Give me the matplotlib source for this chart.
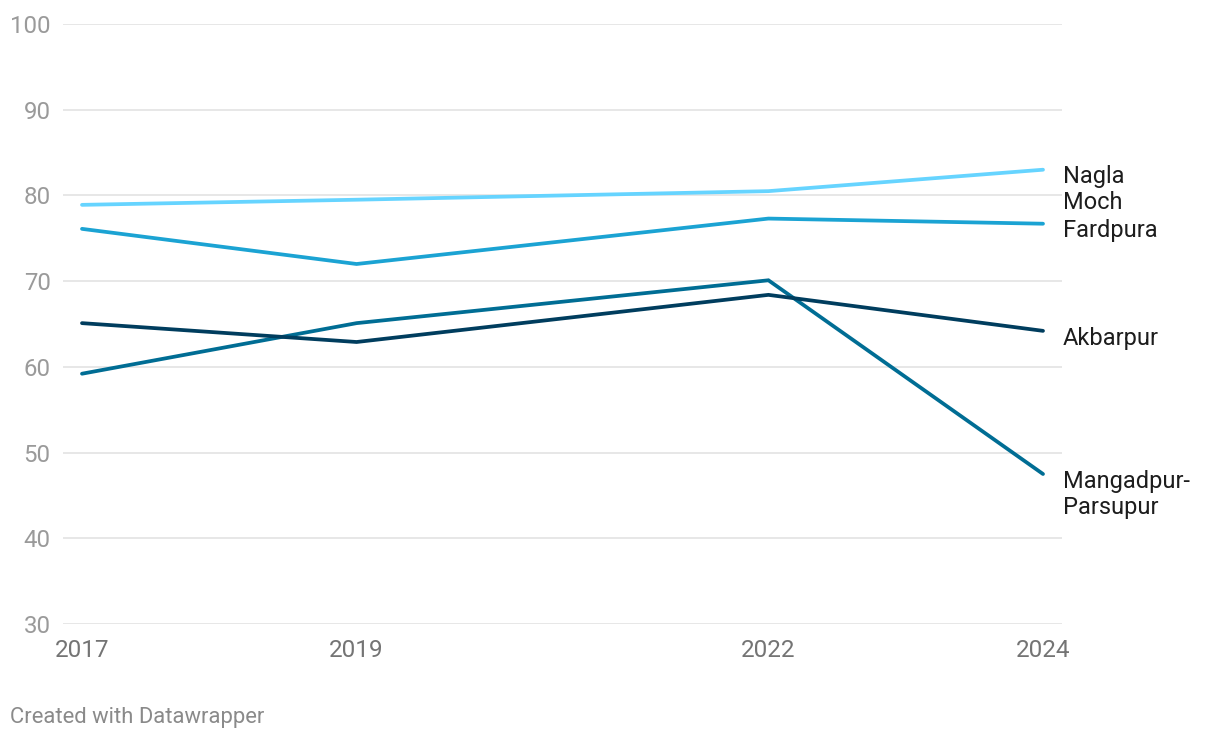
import matplotlib
matplotlib.use("Agg")
import matplotlib.pyplot as plt

years = [2017, 2019, 2022, 2024]
nagla_moch = [78.9, 79.5, 80.5, 83.0]
fardpura = [76.1, 72.0, 77.3, 76.7]
akbarpur = [65.1, 62.9, 68.4, 64.2]
mangadpur = [59.2, 65.1, 70.1, 47.5]

series_names = ["Nagla\nMoch", "Fardpura", "Akbarpur", "Mangadpur-\nParsupur"]
series_values = [nagla_moch, fardpura, akbarpur, mangadpur]
colors = ["#66d4ff", "#1ba3d3", "#003d5e", "#006d94"]
label_y = [80.7, 75.9, 63.3, 45.1]  # label anchor positions in data units

y_ticks = [30, 40, 50, 60, 70, 80, 90, 100]

plt.rcParams['font.family'] = ['Roboto', 'DejaVu Sans']

fig = plt.figure(figsize=(12.2, 7.4), dpi=100)
ax = fig.add_axes([63/1220, (740-624)/740, (1062-63)/1220, 600/740])

ax.set_xlim(2017 - 19/137.3, 2024 + 19/137.3)
ax.set_ylim(30, 100)

for y in y_ticks:
    ax.axhline(y, color="#e3e3e3", lw=1.2, zorder=0)

order = [3, 2, 1, 0]
for i in order:
    ax.plot(years, series_values[i], color=colors[i], lw=2.7,
            solid_capstyle='round', solid_joinstyle='miter', zorder=3)

for name, ly in zip(series_names, label_y):
    ax.annotate(name, xy=(1.0, ly), xycoords=('axes fraction', 'data'),
                xytext=(1, 0), textcoords='offset pixels',
                ha='left', va='center', fontsize=17, color="#1d1d1d",
                linespacing=1.2)

for s in ax.spines.values():
    s.set_visible(False)
ax.set_yticks(y_ticks)
ax.set_yticklabels([str(t) for t in y_ticks], fontsize=17.3, color="#9a9a9a")
ax.tick_params(axis='y', length=0, pad=9)
ax.set_xticks(years)
ax.set_xticklabels([str(y) for y in years], fontsize=17.5, color="#747474")
ax.tick_params(axis='x', length=0, pad=11)

fig.text(10/1220, 1 - 717/740, "Created with Datawrapper", fontsize=15.8,
         color="#8a8a8a", ha='left', va='center')

fig.savefig("out.png", dpi=100)
